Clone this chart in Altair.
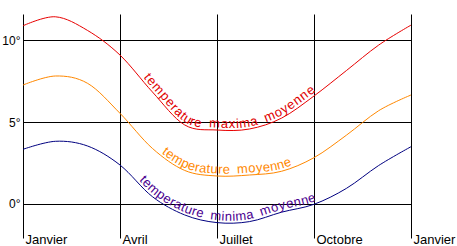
import math
import altair as alt
import pandas as pd

# ---- data ----
months = list(range(13))
tmax = [10.89, 11.44, 10.6, 9.1, 6.85, 4.83, 4.52, 4.58, 5.25, 6.6, 8.15, 9.71, 10.93]
tmoy = [7.27, 7.82, 7.37, 5.54, 3.4, 2.05, 1.71, 1.77, 2.0, 2.83, 4.2, 5.7, 6.66]
tmin = [3.34, 3.83, 3.54, 2.38, 0.45, -0.67, -1.14, -1.08, -0.5, -0.02, 0.95, 2.35, 3.5]
series_names = ["temperature maxima moyenne", "temperature moyenne", "temperature minima moyenne"]
line_colors = ["#e80000", "#ff8800", "#000080"]
text_colors = ["#e00000", "#ff8800", "#4a0090"]
tick_months = [0, 3, 6, 9, 12]
tick_labels = ["Janvier", "Avril", "Juillet", "Octobre", "Janvier"]
y_ticks = [0, 5, 10]
# label extents along each curve (in months)
label_start = [3.66, 4.24, 3.53]
label_end = [9.1, 8.35, 9.1]

W, H = 388, 224
YMIN, YMAX = -2.08, 11.61
FS = 13
FONT = "Liberation Sans"

ADV = {"t": 278, "e": 556, "m": 833, "p": 556, "r": 333, "a": 556, "u": 556,
       "x": 500, "i": 222, "o": 556, "y": 500, "n": 556, " ": 500}


def to_px(m, v):
    return m * W / 12.0, (YMAX - v) * H / (YMAX - YMIN)


def from_px(x, y):
    return x * 12.0 / W, YMAX - y * (YMAX - YMIN) / H


def cardinal(vals, n=60):
    pts = [to_px(m, v) for m, v in zip(months, vals)]
    P = [pts[0]] + pts + [pts[-1]]
    out = []
    for i in range(1, len(P) - 2):
        p0, p1, p2, p3 = P[i - 1], P[i], P[i + 1], P[i + 2]
        c1 = (p1[0] + (p2[0] - p0[0]) / 6, p1[1] + (p2[1] - p0[1]) / 6)
        c2 = (p2[0] - (p3[0] - p1[0]) / 6, p2[1] - (p3[1] - p1[1]) / 6)
        for k in range(n):
            t = k / n
            a, b, c, d = (1 - t) ** 3, 3 * (1 - t) ** 2 * t, 3 * (1 - t) * t ** 2, t ** 3
            out.append((a * p1[0] + b * c1[0] + c * c2[0] + d * p2[0],
                        a * p1[1] + b * c1[1] + c * c2[1] + d * p2[1]))
    out.append(pts[-1])
    return out


def place_label(vals, text, m0, m1, color, off=2.5):
    pts = cardinal(vals)
    s = [0.0]
    for i in range(1, len(pts)):
        s.append(s[-1] + math.dist(pts[i - 1], pts[i]))

    def s_at_x(x):
        for i in range(1, len(pts)):
            if pts[i][0] >= x:
                f = (x - pts[i - 1][0]) / (pts[i][0] - pts[i - 1][0])
                return s[i - 1] + f * (s[i] - s[i - 1])
        return s[-1]

    def at_s(q):
        for i in range(1, len(pts)):
            if s[i] >= q:
                f = (q - s[i - 1]) / (s[i] - s[i - 1])
                x = pts[i - 1][0] + f * (pts[i][0] - pts[i - 1][0])
                y = pts[i - 1][1] + f * (pts[i][1] - pts[i - 1][1])
                th = math.atan2(pts[i][1] - pts[i - 1][1], pts[i][0] - pts[i - 1][0])
                return x, y, th
        return pts[-1][0], pts[-1][1], 0.0

    sa, sb = s_at_x(m0 * W / 12), s_at_x(m1 * W / 12)
    widths = [ADV[c] * FS / 1000 for c in text]
    gap = (sb - sa - sum(widths)) / (len(text) - 1)
    rows = []
    q = sa
    for c, w in zip(text, widths):
        x, y, th = at_s(q + w / 2)
        x += off * math.sin(th)
        y -= off * math.cos(th)
        m, v = from_px(x, y)
        if c != " ":
            rows.append({"m": m, "v": v, "ch": c, "angle": math.degrees(th) % 360, "color": color})
        q += w + gap
    return rows


lines = pd.DataFrame(
    [{"m": m, "v": v, "series": name}
     for name, vals in zip(series_names, [tmax, tmoy, tmin])
     for m, v in zip(months, vals)]
)

label_rows = []
for vals, name, a, b, col in zip([tmax, tmoy, tmin], series_names, label_start, label_end, text_colors):
    label_rows += place_label(vals, name, a, b, col)
labels = pd.DataFrame(label_rows)

label_expr = "[" + ",".join("'%s'" % t for t in tick_labels) + "][round(datum.value/3)]"

x_scale = alt.Scale(domain=[0, 12], nice=False, zero=False)
y_scale = alt.Scale(domain=[YMIN, YMAX], nice=False, zero=False)

base_line = alt.Chart(lines).mark_line(interpolate="cardinal", strokeWidth=1).encode(
    x=alt.X("m:Q", scale=x_scale, title=None,
            axis=alt.Axis(values=tick_months, labelExpr=label_expr, grid=True,
                          gridColor="black", gridOpacity=1, gridWidth=1,
                          domain=False, ticks=False, labelAlign="left",
                          labelBaseline="alphabetic", labelPadding=5, labelOffset=2,
                          labelFont=FONT, labelFontSize=13, labelColor="black",
                          labelOverlap=False, labelFlush=False, labelBound=False)),
    y=alt.Y("v:Q", scale=y_scale, title=None,
            axis=alt.Axis(values=y_ticks, labelExpr="datum.value + '°'", grid=True,
                          gridColor="black", gridOpacity=1, gridWidth=1,
                          domain=False, ticks=False, labelPadding=3,
                          labelFont=FONT, labelFontSize=12, labelColor="black")),
    color=alt.Color("series:N", scale=alt.Scale(domain=series_names, range=line_colors), legend=None),
    detail="series:N",
)

text = alt.Chart(labels).mark_text(font=FONT, fontSize=FS, align="center", baseline="alphabetic").encode(
    x=alt.X("m:Q", scale=x_scale),
    y=alt.Y("v:Q", scale=y_scale),
    text="ch:N",
    angle=alt.Angle("angle:Q", scale=None),
    color=alt.Color("color:N", scale=None),
)

chart = alt.layer(base_line, text).properties(
    width=W, height=H,
    padding={"left": 23, "top": 14, "right": 46, "bottom": 8},
    autosize=alt.AutoSizeParams(type="none"),
    background="white",
).configure_view(stroke=None)

chart.save("out.html", embed_options={"renderer": "svg", "actions": False})
